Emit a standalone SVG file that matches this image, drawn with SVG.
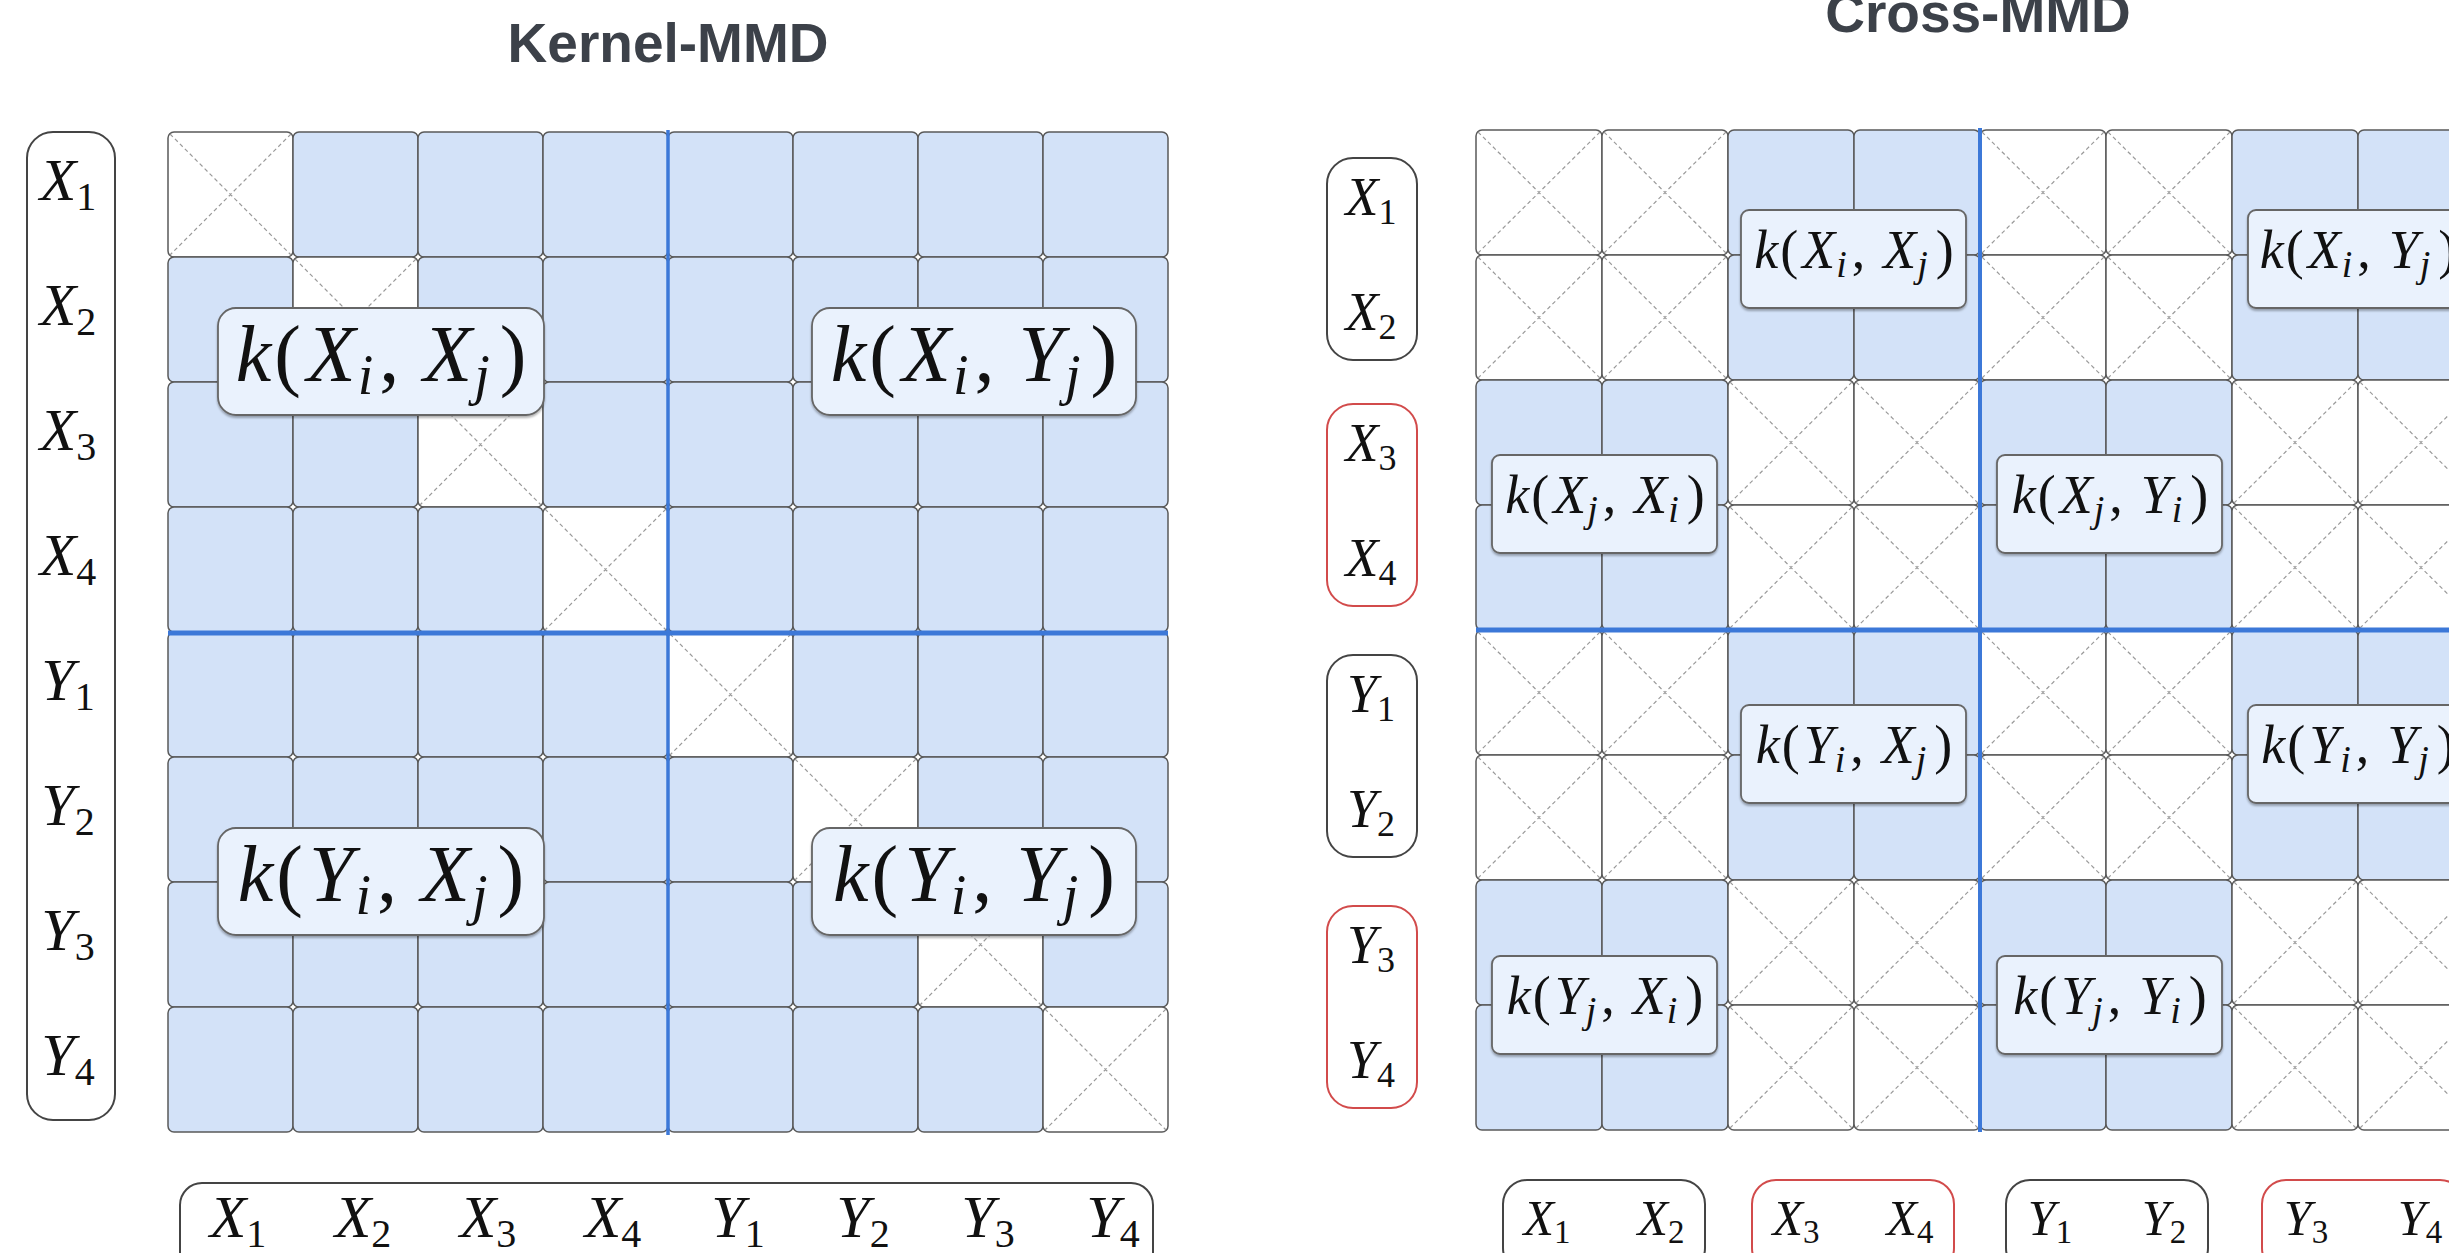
<svg xmlns="http://www.w3.org/2000/svg" width="2449" height="1253" viewBox="0 0 2449 1253">
<style>
.title{font-family:"Liberation Sans",Arial,sans-serif;font-weight:bold;font-size:55px;fill:#3c4149;text-anchor:middle}
.m{font-family:"Liberation Serif","Times New Roman",serif;font-style:italic;fill:#111}
.n{font-style:normal}
.lbl{fill:#fff;stroke:#444;stroke-width:2}
.red{fill:#fff;stroke:#d24b4b;stroke-width:2}
.kbox{fill:#eaf2fd;stroke:#666;stroke-width:1.8;filter:url(#sh)}
.sep{stroke:#3c78d8;fill:none}
</style>
<defs>
<filter id="sh" x="-10%" y="-10%" width="120%" height="130%"><feDropShadow dx="0" dy="2" stdDeviation="1.2" flood-color="#000" flood-opacity="0.3"/></filter>
<rect id="lb" width="125" height="125" rx="6" fill="#d3e2f8" stroke="#595959" stroke-width="1.5"/>
<g id="lw"><rect width="125" height="125" rx="6" fill="#fff" stroke="#595959" stroke-width="1.5"/><path d="M2 2L123 123M123 2L2 123" stroke="#9a9a9a" stroke-width="1.2" stroke-dasharray="4 3" fill="none"/></g>
<rect id="rb" width="126" height="125" rx="6" fill="#d3e2f8" stroke="#595959" stroke-width="1.5"/>
<g id="rw"><rect width="126" height="125" rx="6" fill="#fff" stroke="#595959" stroke-width="1.5"/><path d="M2 2L124 123M124 2L2 123" stroke="#9a9a9a" stroke-width="1.2" stroke-dasharray="4 3" fill="none"/></g>
</defs>
<rect width="2449" height="1253" fill="#fff"/>

<!-- ============ Kernel-MMD ============ -->
<text id="title-kernel" class="title" x="668" y="62">Kernel-MMD</text>

<g id="kernel-matrix">
<use href="#lw" x="168" y="132"/><use href="#lb" x="293" y="132"/><use href="#lb" x="418" y="132"/><use href="#lb" x="543" y="132"/><use href="#lb" x="668" y="132"/><use href="#lb" x="793" y="132"/><use href="#lb" x="918" y="132"/><use href="#lb" x="1043" y="132"/>
<use href="#lb" x="168" y="257"/><use href="#lw" x="293" y="257"/><use href="#lb" x="418" y="257"/><use href="#lb" x="543" y="257"/><use href="#lb" x="668" y="257"/><use href="#lb" x="793" y="257"/><use href="#lb" x="918" y="257"/><use href="#lb" x="1043" y="257"/>
<use href="#lb" x="168" y="382"/><use href="#lb" x="293" y="382"/><use href="#lw" x="418" y="382"/><use href="#lb" x="543" y="382"/><use href="#lb" x="668" y="382"/><use href="#lb" x="793" y="382"/><use href="#lb" x="918" y="382"/><use href="#lb" x="1043" y="382"/>
<use href="#lb" x="168" y="507"/><use href="#lb" x="293" y="507"/><use href="#lb" x="418" y="507"/><use href="#lw" x="543" y="507"/><use href="#lb" x="668" y="507"/><use href="#lb" x="793" y="507"/><use href="#lb" x="918" y="507"/><use href="#lb" x="1043" y="507"/>
<use href="#lb" x="168" y="632"/><use href="#lb" x="293" y="632"/><use href="#lb" x="418" y="632"/><use href="#lb" x="543" y="632"/><use href="#lw" x="668" y="632"/><use href="#lb" x="793" y="632"/><use href="#lb" x="918" y="632"/><use href="#lb" x="1043" y="632"/>
<use href="#lb" x="168" y="757"/><use href="#lb" x="293" y="757"/><use href="#lb" x="418" y="757"/><use href="#lb" x="543" y="757"/><use href="#lb" x="668" y="757"/><use href="#lw" x="793" y="757"/><use href="#lb" x="918" y="757"/><use href="#lb" x="1043" y="757"/>
<use href="#lb" x="168" y="882"/><use href="#lb" x="293" y="882"/><use href="#lb" x="418" y="882"/><use href="#lb" x="543" y="882"/><use href="#lb" x="668" y="882"/><use href="#lb" x="793" y="882"/><use href="#lw" x="918" y="882"/><use href="#lb" x="1043" y="882"/>
<use href="#lb" x="168" y="1007"/><use href="#lb" x="293" y="1007"/><use href="#lb" x="418" y="1007"/><use href="#lb" x="543" y="1007"/><use href="#lb" x="668" y="1007"/><use href="#lb" x="793" y="1007"/><use href="#lb" x="918" y="1007"/><use href="#lw" x="1043" y="1007"/>
</g>

<!-- ============ Cross-MMD ============ -->
<text id="title-cross" class="title" x="1978" y="32">Cross-MMD</text>

<g id="cross-matrix">
<use href="#rw" x="1476" y="130"/><use href="#rw" x="1602" y="130"/><use href="#rb" x="1728" y="130"/><use href="#rb" x="1854" y="130"/><use href="#rw" x="1980" y="130"/><use href="#rw" x="2106" y="130"/><use href="#rb" x="2232" y="130"/><use href="#rb" x="2358" y="130"/>
<use href="#rw" x="1476" y="255"/><use href="#rw" x="1602" y="255"/><use href="#rb" x="1728" y="255"/><use href="#rb" x="1854" y="255"/><use href="#rw" x="1980" y="255"/><use href="#rw" x="2106" y="255"/><use href="#rb" x="2232" y="255"/><use href="#rb" x="2358" y="255"/>
<use href="#rb" x="1476" y="380"/><use href="#rb" x="1602" y="380"/><use href="#rw" x="1728" y="380"/><use href="#rw" x="1854" y="380"/><use href="#rb" x="1980" y="380"/><use href="#rb" x="2106" y="380"/><use href="#rw" x="2232" y="380"/><use href="#rw" x="2358" y="380"/>
<use href="#rb" x="1476" y="505"/><use href="#rb" x="1602" y="505"/><use href="#rw" x="1728" y="505"/><use href="#rw" x="1854" y="505"/><use href="#rb" x="1980" y="505"/><use href="#rb" x="2106" y="505"/><use href="#rw" x="2232" y="505"/><use href="#rw" x="2358" y="505"/>
<use href="#rw" x="1476" y="630"/><use href="#rw" x="1602" y="630"/><use href="#rb" x="1728" y="630"/><use href="#rb" x="1854" y="630"/><use href="#rw" x="1980" y="630"/><use href="#rw" x="2106" y="630"/><use href="#rb" x="2232" y="630"/><use href="#rb" x="2358" y="630"/>
<use href="#rw" x="1476" y="755"/><use href="#rw" x="1602" y="755"/><use href="#rb" x="1728" y="755"/><use href="#rb" x="1854" y="755"/><use href="#rw" x="1980" y="755"/><use href="#rw" x="2106" y="755"/><use href="#rb" x="2232" y="755"/><use href="#rb" x="2358" y="755"/>
<use href="#rb" x="1476" y="880"/><use href="#rb" x="1602" y="880"/><use href="#rw" x="1728" y="880"/><use href="#rw" x="1854" y="880"/><use href="#rb" x="1980" y="880"/><use href="#rb" x="2106" y="880"/><use href="#rw" x="2232" y="880"/><use href="#rw" x="2358" y="880"/>
<use href="#rb" x="1476" y="1005"/><use href="#rb" x="1602" y="1005"/><use href="#rw" x="1728" y="1005"/><use href="#rw" x="1854" y="1005"/><use href="#rb" x="1980" y="1005"/><use href="#rb" x="2106" y="1005"/><use href="#rw" x="2232" y="1005"/><use href="#rw" x="2358" y="1005"/>
</g>

<g id="connectors">
<line class="sep" x1="668" y1="130" x2="668" y2="1135" stroke-width="3.5"/>
<line class="sep" x1="168" y1="633" x2="1168" y2="633" stroke-width="5"/>
<line class="sep" x1="1980" y1="128" x2="1980" y2="1132" stroke-width="4"/>
<line class="sep" x1="1476" y1="630" x2="2449" y2="630" stroke-width="5"/>
</g>

<g id="kernel-row-labels">
<rect class="lbl" x="27" y="132" width="88" height="988" rx="26"/>
<g class="m" font-size="60" text-anchor="middle">
<text x="68" y="200">X<tspan class="n" font-size="40" dy="10">1</tspan></text>
<text x="68" y="325">X<tspan class="n" font-size="40" dy="10">2</tspan></text>
<text x="68" y="450">X<tspan class="n" font-size="40" dy="10">3</tspan></text>
<text x="68" y="575">X<tspan class="n" font-size="40" dy="10">4</tspan></text>
<text x="68" y="700">Y<tspan class="n" font-size="40" dy="10">1</tspan></text>
<text x="68" y="825">Y<tspan class="n" font-size="40" dy="10">2</tspan></text>
<text x="68" y="950">Y<tspan class="n" font-size="40" dy="10">3</tspan></text>
<text x="68" y="1075">Y<tspan class="n" font-size="40" dy="10">4</tspan></text>
</g>
</g>

<g id="kernel-col-labels">
<rect class="lbl" x="180" y="1183" width="973" height="92" rx="22"/>
<g class="m" font-size="60" text-anchor="middle">
<text x="238" y="1237">X<tspan class="n" font-size="40" dy="10">1</tspan></text>
<text x="363" y="1237">X<tspan class="n" font-size="40" dy="10">2</tspan></text>
<text x="488" y="1237">X<tspan class="n" font-size="40" dy="10">3</tspan></text>
<text x="613" y="1237">X<tspan class="n" font-size="40" dy="10">4</tspan></text>
<text x="738" y="1237">Y<tspan class="n" font-size="40" dy="10">1</tspan></text>
<text x="863" y="1237">Y<tspan class="n" font-size="40" dy="10">2</tspan></text>
<text x="988" y="1237">Y<tspan class="n" font-size="40" dy="10">3</tspan></text>
<text x="1113" y="1237">Y<tspan class="n" font-size="40" dy="10">4</tspan></text>
</g>
</g>

<g id="k-XiXj-left">
<rect class="kbox" x="218" y="308" width="326" height="107" rx="18"/>
<text class="m" x="381" y="381" font-size="80" text-anchor="middle">k<tspan class="n" dx="3">(</tspan><tspan dx="6">X</tspan><tspan font-size="56" dy="13" dx="2">i</tspan><tspan class="n" dy="-13" dx="6">,</tspan><tspan dx="24">X</tspan><tspan font-size="56" dy="13" dx="2">j</tspan><tspan class="n" dy="-13" dx="10">)</tspan></text>
</g>
<g id="k-XiYj-left">
<rect class="kbox" x="812" y="308" width="324" height="107" rx="18"/>
<text class="m" x="974" y="381" font-size="80" text-anchor="middle">k<tspan class="n" dx="3">(</tspan><tspan dx="6">X</tspan><tspan font-size="56" dy="13" dx="2">i</tspan><tspan class="n" dy="-13" dx="6">,</tspan><tspan dx="24">Y</tspan><tspan font-size="56" dy="13" dx="2">j</tspan><tspan class="n" dy="-13" dx="10">)</tspan></text>
</g>
<g id="k-YiXj-left">
<rect class="kbox" x="218" y="828" width="326" height="107" rx="18"/>
<text class="m" x="381" y="901" font-size="80" text-anchor="middle">k<tspan class="n" dx="3">(</tspan><tspan dx="6">Y</tspan><tspan font-size="56" dy="13" dx="2">i</tspan><tspan class="n" dy="-13" dx="6">,</tspan><tspan dx="24">X</tspan><tspan font-size="56" dy="13" dx="2">j</tspan><tspan class="n" dy="-13" dx="10">)</tspan></text>
</g>
<g id="k-YiYj-left">
<rect class="kbox" x="812" y="828" width="324" height="107" rx="18"/>
<text class="m" x="974" y="901" font-size="80" text-anchor="middle">k<tspan class="n" dx="3">(</tspan><tspan dx="6">Y</tspan><tspan font-size="56" dy="13" dx="2">i</tspan><tspan class="n" dy="-13" dx="6">,</tspan><tspan dx="24">Y</tspan><tspan font-size="56" dy="13" dx="2">j</tspan><tspan class="n" dy="-13" dx="10">)</tspan></text>
</g>

<g id="cross-row-labels" class="m" font-size="54" text-anchor="middle">
<g id="rl-x12"><rect class="lbl" x="1327" y="158" width="90" height="202" rx="26"/>
<text x="1371" y="215">X<tspan class="n" font-size="36" dy="9">1</tspan></text>
<text x="1371" y="330">X<tspan class="n" font-size="36" dy="9">2</tspan></text></g>
<g id="rl-x34"><rect class="red" x="1327" y="404" width="90" height="202" rx="26"/>
<text x="1371" y="461">X<tspan class="n" font-size="36" dy="9">3</tspan></text>
<text x="1371" y="576">X<tspan class="n" font-size="36" dy="9">4</tspan></text></g>
<g id="rl-y12"><rect class="lbl" x="1327" y="655" width="90" height="202" rx="26"/>
<text x="1371" y="712">Y<tspan class="n" font-size="36" dy="9">1</tspan></text>
<text x="1371" y="827">Y<tspan class="n" font-size="36" dy="9">2</tspan></text></g>
<g id="rl-y34"><rect class="red" x="1327" y="906" width="90" height="202" rx="26"/>
<text x="1371" y="963">Y<tspan class="n" font-size="36" dy="9">3</tspan></text>
<text x="1371" y="1078">Y<tspan class="n" font-size="36" dy="9">4</tspan></text></g>
</g>

<g id="cross-col-labels" class="m" font-size="50" text-anchor="middle">
<g id="cl-x12"><rect class="lbl" x="1503" y="1180" width="202" height="92" rx="24"/>
<text x="1547" y="1235">X<tspan class="n" font-size="33" dy="8">1</tspan></text>
<text x="1661" y="1235">X<tspan class="n" font-size="33" dy="8">2</tspan></text></g>
<g id="cl-x34"><rect class="red" x="1752" y="1180" width="202" height="92" rx="24"/>
<text x="1796" y="1235">X<tspan class="n" font-size="33" dy="8">3</tspan></text>
<text x="1910" y="1235">X<tspan class="n" font-size="33" dy="8">4</tspan></text></g>
<g id="cl-y12"><rect class="lbl" x="2006" y="1180" width="202" height="92" rx="24"/>
<text x="2050" y="1235">Y<tspan class="n" font-size="33" dy="8">1</tspan></text>
<text x="2164" y="1235">Y<tspan class="n" font-size="33" dy="8">2</tspan></text></g>
<g id="cl-y34"><rect class="red" x="2262" y="1180" width="202" height="92" rx="24"/>
<text x="2306" y="1235">Y<tspan class="n" font-size="33" dy="8">3</tspan></text>
<text x="2420" y="1235">Y<tspan class="n" font-size="33" dy="8">4</tspan></text></g>
</g>

<g id="k-XiXj-right">
<rect class="kbox" x="1741" y="210" width="225" height="98" rx="8"/>
<text class="m" x="1854" y="268" font-size="54" text-anchor="middle">k<tspan class="n" dx="2">(</tspan><tspan dx="4">X</tspan><tspan font-size="38" dy="9" dx="1">i</tspan><tspan class="n" dy="-9" dx="5">,</tspan><tspan dx="18">X</tspan><tspan font-size="38" dy="9" dx="1">j</tspan><tspan class="n" dy="-9" dx="8">)</tspan></text>
</g>
<g id="k-XiYj-right">
<rect class="kbox" x="2248" y="210" width="225" height="98" rx="8"/>
<text class="m" x="2358" y="268" font-size="54" text-anchor="middle">k<tspan class="n" dx="2">(</tspan><tspan dx="4">X</tspan><tspan font-size="38" dy="9" dx="1">i</tspan><tspan class="n" dy="-9" dx="5">,</tspan><tspan dx="18">Y</tspan><tspan font-size="38" dy="9" dx="1">j</tspan><tspan class="n" dy="-9" dx="8">)</tspan></text>
</g>
<g id="k-XjXi-right">
<rect class="kbox" x="1492" y="455" width="225" height="98" rx="8"/>
<text class="m" x="1605" y="513" font-size="54" text-anchor="middle">k<tspan class="n" dx="2">(</tspan><tspan dx="4">X</tspan><tspan font-size="38" dy="9" dx="1">j</tspan><tspan class="n" dy="-9" dx="5">,</tspan><tspan dx="18">X</tspan><tspan font-size="38" dy="9" dx="1">i</tspan><tspan class="n" dy="-9" dx="8">)</tspan></text>
</g>
<g id="k-XjYi-right">
<rect class="kbox" x="1997" y="455" width="225" height="98" rx="8"/>
<text class="m" x="2110" y="513" font-size="54" text-anchor="middle">k<tspan class="n" dx="2">(</tspan><tspan dx="4">X</tspan><tspan font-size="38" dy="9" dx="1">j</tspan><tspan class="n" dy="-9" dx="5">,</tspan><tspan dx="18">Y</tspan><tspan font-size="38" dy="9" dx="1">i</tspan><tspan class="n" dy="-9" dx="8">)</tspan></text>
</g>
<g id="k-YiXj-right">
<rect class="kbox" x="1741" y="705" width="225" height="98" rx="8"/>
<text class="m" x="1854" y="763" font-size="54" text-anchor="middle">k<tspan class="n" dx="2">(</tspan><tspan dx="4">Y</tspan><tspan font-size="38" dy="9" dx="1">i</tspan><tspan class="n" dy="-9" dx="5">,</tspan><tspan dx="18">X</tspan><tspan font-size="38" dy="9" dx="1">j</tspan><tspan class="n" dy="-9" dx="8">)</tspan></text>
</g>
<g id="k-YiYj-right">
<rect class="kbox" x="2248" y="705" width="225" height="98" rx="8"/>
<text class="m" x="2358" y="763" font-size="54" text-anchor="middle">k<tspan class="n" dx="2">(</tspan><tspan dx="4">Y</tspan><tspan font-size="38" dy="9" dx="1">i</tspan><tspan class="n" dy="-9" dx="5">,</tspan><tspan dx="18">Y</tspan><tspan font-size="38" dy="9" dx="1">j</tspan><tspan class="n" dy="-9" dx="8">)</tspan></text>
</g>
<g id="k-YjXi-right">
<rect class="kbox" x="1492" y="956" width="225" height="98" rx="8"/>
<text class="m" x="1605" y="1014" font-size="54" text-anchor="middle">k<tspan class="n" dx="2">(</tspan><tspan dx="4">Y</tspan><tspan font-size="38" dy="9" dx="1">j</tspan><tspan class="n" dy="-9" dx="5">,</tspan><tspan dx="18">X</tspan><tspan font-size="38" dy="9" dx="1">i</tspan><tspan class="n" dy="-9" dx="8">)</tspan></text>
</g>
<g id="k-YjYi-right">
<rect class="kbox" x="1997" y="956" width="225" height="98" rx="8"/>
<text class="m" x="2110" y="1014" font-size="54" text-anchor="middle">k<tspan class="n" dx="2">(</tspan><tspan dx="4">Y</tspan><tspan font-size="38" dy="9" dx="1">j</tspan><tspan class="n" dy="-9" dx="5">,</tspan><tspan dx="18">Y</tspan><tspan font-size="38" dy="9" dx="1">i</tspan><tspan class="n" dy="-9" dx="8">)</tspan></text>
</g>
</svg>
